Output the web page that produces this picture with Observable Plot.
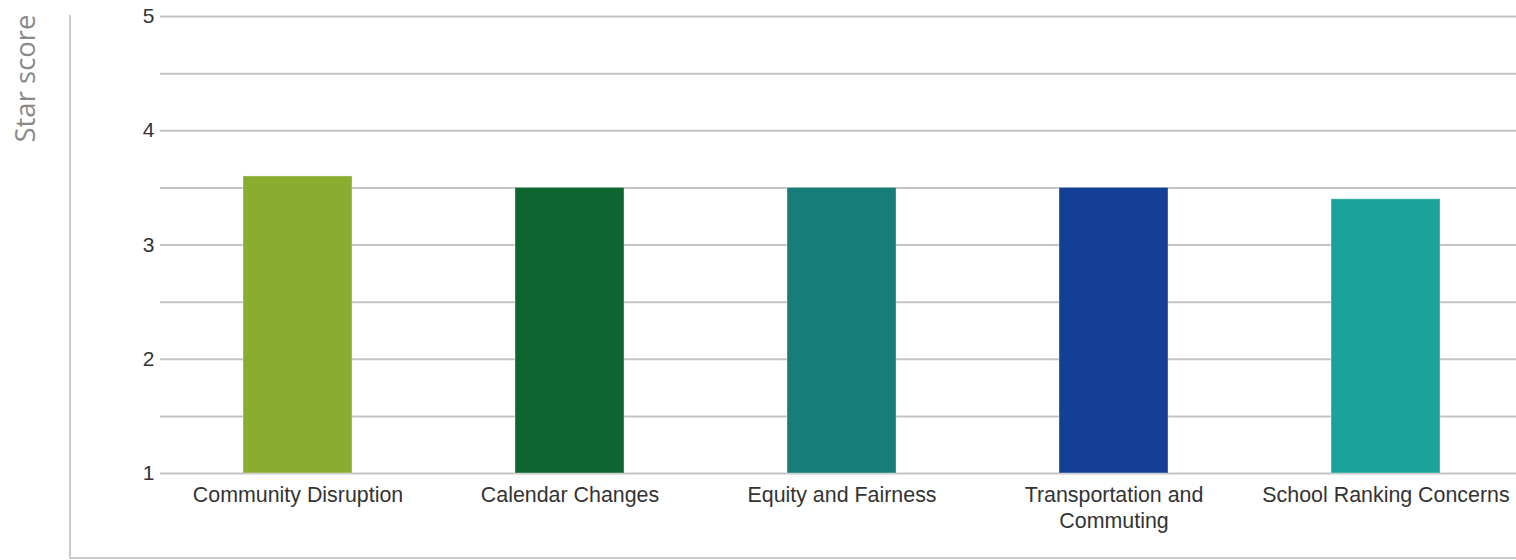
<!DOCTYPE html>
<html>
<head>
<meta charset="utf-8">
<script src="https://cdn.jsdelivr.net/npm/d3@7"></script>
<script src="https://cdn.jsdelivr.net/npm/@observablehq/plot@0.6"></script>
<style>
  html, body { margin: 0; padding: 0; background: white; }
</style>
</head>
<body>
<div id="chart"></div>
<script>
const categories = ["Community Disruption", "Calendar Changes", "Equity and Fairness", "Transportation and Commuting", "School Ranking Concerns"];
const scores = [3.6, 3.5, 3.5, 3.5, 3.4];
const barColors = ["#8aad2f", "#0d6630", "#167d78", "#134096", "#1aa39a"];
const yTicks = [1, 2, 3, 4, 5];
const gridLines = [1, 1.5, 2, 2.5, 3, 3.5, 4, 4.5, 5];
const yLabel = "Star score";

const data = categories.map((c, i) => ({category: c, score: scores[i]}));

const chart = Plot.plot({
  width: 1516,
  height: 560,
  marginLeft: 160,
  marginRight: 0,
  marginTop: 16,
  marginBottom: 87,
  style: {fontFamily: "'Liberation Sans', Arial, sans-serif", color: "#333", background: "white"},
  x: {domain: categories, paddingInner: 0.6, paddingOuter: 0.289, align: 0.52},
  y: {domain: [1, 5]},
  color: {domain: categories, range: barColors},
  marks: [
    Plot.ruleY(gridLines, {stroke: "#c4c4c4", strokeWidth: 2}),
    Plot.barY(data, {x: "category", y1: 1, y2: "score", fill: "category", stroke: "white", strokeOpacity: 0.35, strokeWidth: 1}),
    Plot.axisY(yTicks, {tickSize: 0, tickPadding: 6, fontSize: 21, tickFormat: "d", label: null}),
    Plot.axisX({tickSize: 0, tickPadding: 9.5, fontSize: 21.4, lineWidth: 12.5, lineHeight: 1.22, label: null})
  ]
});

const svg = d3.select(chart);
svg.append("line").attr("x1", 70).attr("x2", 70).attr("y1", 15).attr("y2", 559)
  .attr("stroke", "#cccccc").attr("stroke-width", 2);
svg.append("line").attr("x1", 70).attr("x2", 1516).attr("y1", 558).attr("y2", 558)
  .attr("stroke", "#cccccc").attr("stroke-width", 2);
svg.append("text").text(yLabel)
  .attr("transform", "translate(35,78.5) rotate(-90)")
  .attr("text-anchor", "middle")
  .attr("fill", "#8a8a8a")
  .style("font-family", "'Open Sans', sans-serif")
  .style("font-size", "27.5px");

document.getElementById("chart").appendChild(chart);
</script>
</body>
</html>
